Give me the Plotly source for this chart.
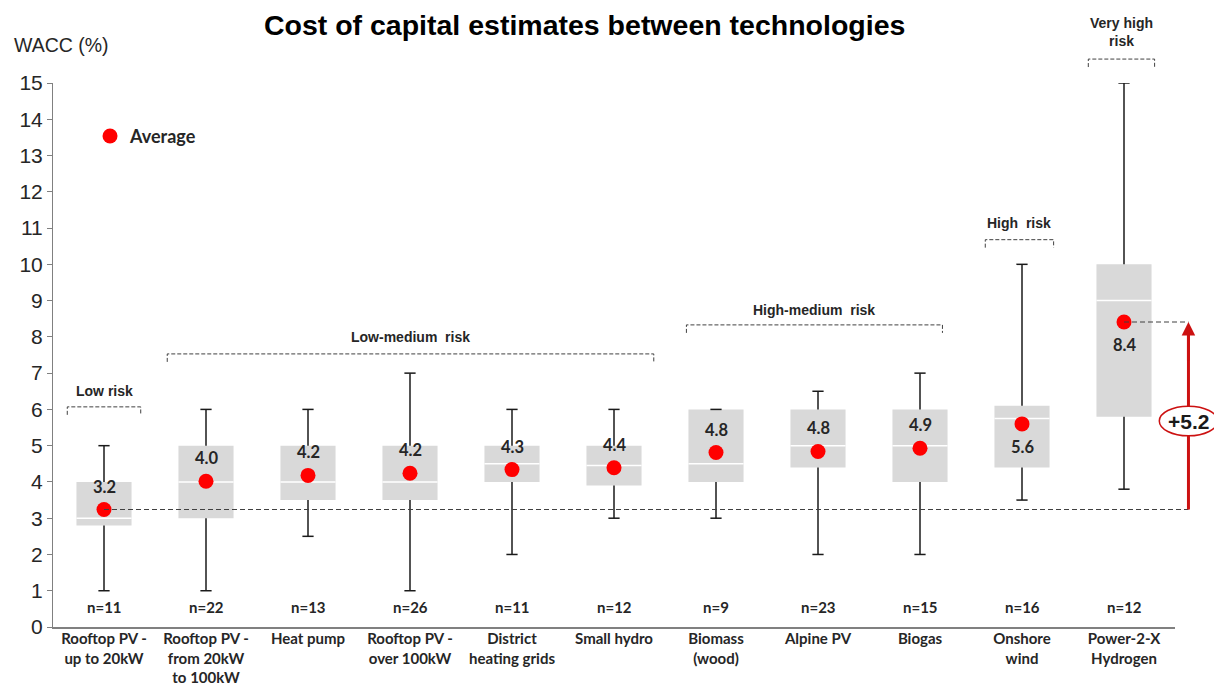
import plotly.graph_objects as go

# ---------------- data ----------------
categories = [
    "Rooftop PV -<br>up to 20kW",
    "Rooftop PV -<br>from 20kW<br>to 100kW",
    "Heat pump",
    "Rooftop PV -<br>over 100kW",
    "District<br>heating grids",
    "Small hydro",
    "Biomass<br>(wood)",
    "Alpine PV",
    "Biogas",
    "Onshore<br>wind",
    "Power-2-X<br>Hydrogen",
]
n_obs = [11, 22, 13, 26, 11, 12, 9, 23, 15, 16, 12]
lower_whisker = [1.0, 1.0, 2.5, 1.0, 2.0, 3.0, 3.0, 2.0, 2.0, 3.5, 3.8]
q1 = [2.8, 3.0, 3.5, 3.5, 4.0, 3.9, 4.0, 4.4, 4.0, 4.4, 5.8]
median = [3.0, 4.0, 4.0, 4.0, 4.5, 4.45, 4.5, 5.0, 5.0, 5.75, 9.0]
q3 = [4.0, 5.0, 5.0, 5.0, 5.0, 5.0, 6.0, 6.0, 6.0, 6.1, 10.0]
upper_whisker = [5.0, 6.0, 6.0, 7.0, 6.0, 6.0, 6.0, 6.5, 7.0, 10.0, 15.0]
mean = [3.24, 4.02, 4.18, 4.24, 4.34, 4.39, 4.81, 4.84, 4.93, 5.60, 8.41]

risk_groups = ["Low risk", "Low-medium  risk", "High-medium  risk", "High  risk", "Very high<br>risk"]
risk_first = [0, 1, 6, 9, 10]
risk_last = [0, 5, 8, 9, 10]

y_ticks = list(range(0, 16))

# ---------------- styling / layout ----------------
W, H = 1214, 678          # page adds an 8px body margin
Y_MAX = 15
xpos = list(range(len(categories)))
BOX_W = 0.54
CAP = 0.055
LABEL_BELOW = {9, 10}
TXT = "#262626"
CAL = "Lato"
ARIAL = "Liberation Sans, Arial"

fig = go.Figure()

fig.add_trace(go.Bar(
    x=xpos, y=[b - a for a, b in zip(q1, q3)], base=q1, width=BOX_W,
    marker=dict(color="#d9d9d9", line=dict(width=0)), showlegend=False, hoverinfo="skip"))

wx, wy = [], []
for i in xpos:
    wx += [i, i, None, i, i, None, i - CAP, i + CAP, None, i - CAP, i + CAP, None]
    wy += [lower_whisker[i], q1[i], None, q3[i], upper_whisker[i], None,
           upper_whisker[i], upper_whisker[i], None, lower_whisker[i], lower_whisker[i], None]
fig.add_trace(go.Scatter(x=wx, y=wy, mode="lines", line=dict(color="#1a1a1a", width=1.5),
                         showlegend=False, hoverinfo="skip"))

mx, my = [], []
for i in xpos:
    mx += [i - BOX_W / 2, i + BOX_W / 2, None]
    my += [median[i], median[i], None]
fig.add_trace(go.Scatter(x=mx, y=my, mode="lines", line=dict(color="white", width=1.5),
                         showlegend=False, hoverinfo="skip"))

fig.add_trace(go.Scatter(x=xpos, y=mean, mode="markers", name="Average",
                         marker=dict(color="#ff0000", size=15), showlegend=True))

# mean labels and n= labels
for i in xpos:
    fig.add_annotation(x=i, y=mean[i], text=f"<b>{mean[i]:.1f}</b>", showarrow=False,
                       xanchor="center", yanchor="middle",
                       yshift=-23 if i in LABEL_BELOW else 23,
                       font=dict(family=CAL, size=16.5, color=TXT))
    fig.add_annotation(x=i, y=0.55, text=f"<b>n={n_obs[i]}</b>", showarrow=False,
                       xanchor="center", yanchor="middle",
                       font=dict(family=CAL, size=15, color=TXT))

# risk brackets
bracket_level = [6.07, 7.53, 8.33, 10.68, 15.66]
bracket_text_y = [6.5, 8.0, 8.74, 11.15, 16.4]
bracket_pad_l = [0.36, 0.38, 0.29, 0.36, 0.35]
bracket_pad_r = [0.36, 0.39, 0.22, 0.31, 0.30]
TICK = 0.22
for g in range(len(risk_groups)):
    x0 = risk_first[g] - bracket_pad_l[g]
    x1 = risk_last[g] + bracket_pad_r[g]
    yt = bracket_level[g] / Y_MAX
    yb = (bracket_level[g] - TICK) / Y_MAX
    fig.add_shape(type="path", xref="x", yref="paper",
                  path=f"M {x0},{yb} L {x0},{yt} L {x1},{yt} L {x1},{yb}",
                  line=dict(color="#404040", width=1, dash="4px,2px"))
    fig.add_annotation(x=(x0 + x1) / 2, y=bracket_text_y[g] / Y_MAX, xref="x", yref="paper",
                       xanchor="center", yanchor="middle",
                       text=f"<b>{risk_groups[g]}</b>", showarrow=False,
                       font=dict(family=ARIAL, size=14, color=TXT))

# difference arrow
ARROW_X = 1.012
x_first = (0 + 0.5) / len(categories)
x_last = (len(categories) - 1 + 0.5) / len(categories)
fig.add_shape(type="line", xref="paper", yref="y", x0=x_first, x1=ARROW_X, y0=mean[0], y1=mean[0],
              line=dict(color="#404040", width=1, dash="5px,3px"))
fig.add_shape(type="line", xref="paper", yref="y", x0=x_last, x1=ARROW_X, y0=mean[-1], y1=mean[-1],
              line=dict(color="#404040", width=1, dash="5px,3px"))
fig.add_shape(type="line", xref="paper", yref="y", x0=ARROW_X, x1=ARROW_X, y0=mean[0], y1=mean[-1] - 0.3,
              line=dict(color="#cc1111", width=3))
fig.add_annotation(x=ARROW_X, y=mean[-1], xref="paper", yref="y", ax=0, ay=40, text="",
                   showarrow=True, arrowhead=2, arrowsize=0.9, arrowwidth=3, arrowcolor="#cc1111",
                   standoff=0)
ell_y = 5.68
fig.add_shape(type="circle", xref="paper", yref="y", x0=ARROW_X - 0.026, x1=ARROW_X + 0.026,
              y0=ell_y - 0.41, y1=ell_y + 0.41, fillcolor="white",
              line=dict(color="#cc1111", width=1.5))
fig.add_annotation(x=ARROW_X, y=ell_y, xref="paper", yref="y", showarrow=False,
                   xanchor="center", yanchor="middle",
                   text=f"<b>+{mean[-1] - mean[0]:.1f}</b>",
                   font=dict(family=ARIAL, size=21, color="#1a1a1a"))

# axis title
fig.add_annotation(x=-0.0365, y=16.05 / Y_MAX, xref="paper", yref="paper", xanchor="left",
                   yanchor="middle", text="WACC (%)", showarrow=False,
                   font=dict(family=ARIAL, size=19.5, color=TXT))

fig.update_layout(
    width=W, height=H,
    margin=dict(l=45, r=47, t=75, b=59),
    paper_bgcolor="white", plot_bgcolor="white",
    title=dict(text="<b>Cost of capital estimates between technologies</b>", x=0.475, xanchor="center",
               y=1 - 17 / H, yanchor="middle", yref="container",
               font=dict(family=ARIAL, size=28.5, color="black")),
    legend=dict(x=0.033, y=0.936, xanchor="left", yanchor="top", bgcolor="rgba(0,0,0,0)",
                font=dict(family=CAL, size=18, color=TXT, weight="bold")),
    xaxis=dict(range=[-0.5, len(categories) - 0.5], tickvals=xpos, ticktext=categories,
               showgrid=False, zeroline=False, showline=True, linecolor="#808080", linewidth=2,
               ticks="", tickfont=dict(family=CAL, size=15, color=TXT, weight="bold"),
               ticklabelstandoff=-3, automargin=False, fixedrange=True),
    yaxis=dict(range=[0, Y_MAX], tickvals=y_ticks, showgrid=False, zeroline=False,
               showline=True, linecolor="#808080", linewidth=1, ticks="outside", ticklen=5,
               tickcolor="#808080", tickfont=dict(family=ARIAL, size=21, color=TXT),
               automargin=False, fixedrange=True),
    showlegend=True,
)

fig.write_html("out.html")
